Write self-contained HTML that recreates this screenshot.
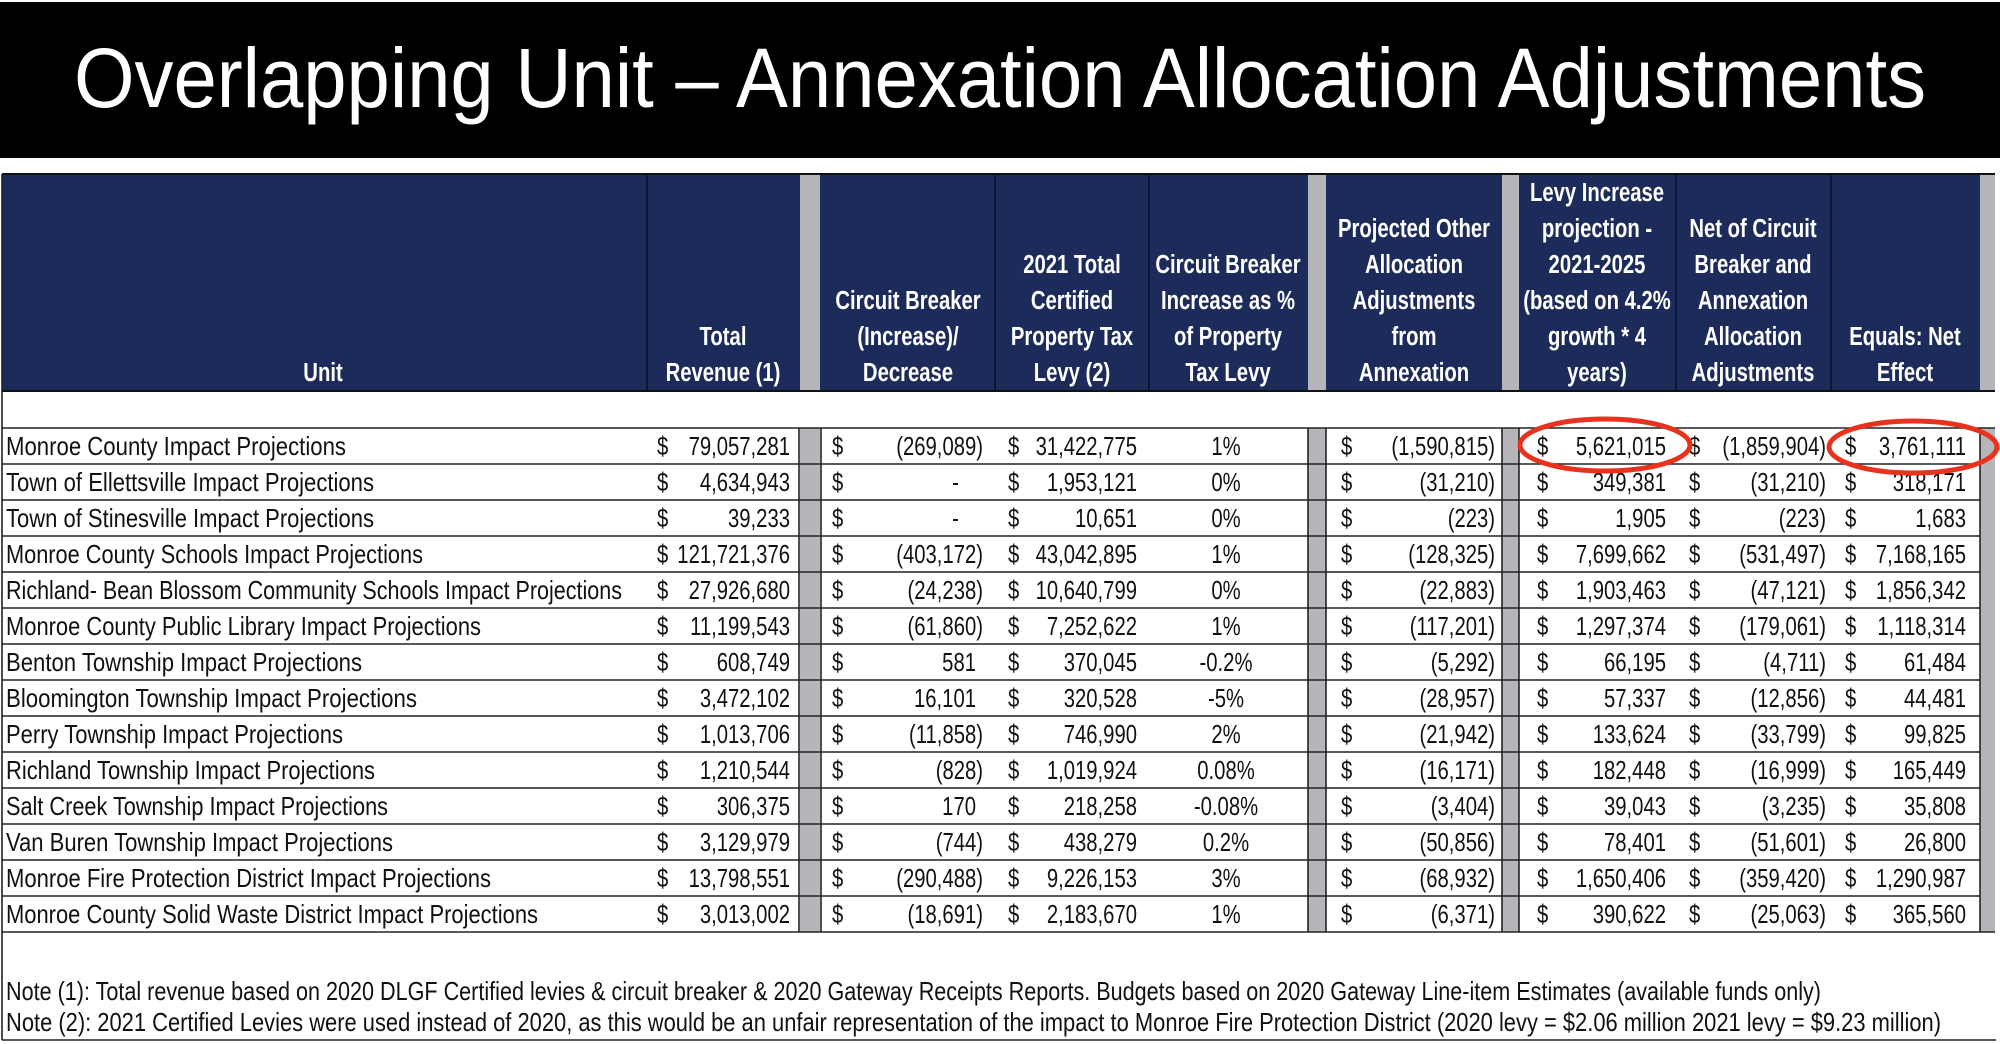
<!DOCTYPE html>
<html><head><meta charset="utf-8"><style>
html,body{margin:0;padding:0;background:#fff;width:2000px;height:1044px;overflow:hidden}
svg{display:block}
text{font-family:"Liberation Sans",sans-serif}
.h text{font-weight:bold;fill:#fff;font-size:26px;text-anchor:middle}
.d text{font-size:26px;fill:#111}
.e text{text-anchor:end}
</style></head><body>
<svg width="2000" height="1044" viewBox="0 0 2000 1044" xmlns="http://www.w3.org/2000/svg">
<rect x="0" y="0" width="2000" height="1044" fill="#fff"/>
<rect x="0" y="2" width="2000" height="156" fill="#000"/>
<text x="74" y="107" font-size="84" fill="#fff" textLength="1852" lengthAdjust="spacingAndGlyphs">Overlapping Unit – Annexation Allocation Adjustments</text>

<rect x="2" y="174" width="1993" height="217" fill="#1d2b5b"/>
<rect x="800" y="174" width="20" height="217" fill="#b6b6ba"/>
<rect x="1308" y="174" width="18" height="217" fill="#b6b6ba"/>
<rect x="1502" y="174" width="17" height="217" fill="#b6b6ba"/>
<rect x="1980" y="174" width="15" height="217" fill="#b6b6ba"/>
<g stroke="#0c1638" stroke-width="2">
<line x1="647" y1="174" x2="647" y2="391"/><line x1="995" y1="174" x2="995" y2="391"/>
<line x1="1149" y1="174" x2="1149" y2="391"/><line x1="1676" y1="174" x2="1676" y2="391"/>
<line x1="1831" y1="174" x2="1831" y2="391"/>
</g>
<line x1="2" y1="174" x2="1995" y2="174" stroke="#111" stroke-width="2"/>
<line x1="2" y1="391" x2="1995" y2="391" stroke="#111" stroke-width="2"/>

<g class="h">
<g transform="translate(323,0) scale(0.78,1)"><text x="0" y="381">Unit</text></g>
<g transform="translate(723,0) scale(0.78,1)"><text y="345">Total</text><text y="381">Revenue (1)</text></g>
<g transform="translate(908,0) scale(0.78,1)"><text y="309">Circuit Breaker</text><text y="345">(Increase)/</text><text y="381">Decrease</text></g>
<g transform="translate(1072,0) scale(0.78,1)"><text y="273">2021 Total</text><text y="309">Certified</text><text y="345">Property Tax</text><text y="381">Levy (2)</text></g>
<g transform="translate(1228,0) scale(0.78,1)"><text y="273">Circuit Breaker</text><text y="309">Increase as %</text><text y="345">of Property</text><text y="381">Tax Levy</text></g>
<g transform="translate(1414,0) scale(0.78,1)"><text y="237">Projected Other</text><text y="273">Allocation</text><text y="309">Adjustments</text><text y="345">from</text><text y="381">Annexation</text></g>
<g transform="translate(1597,0) scale(0.78,1)"><text y="201">Levy Increase</text><text y="237">projection -</text><text y="273">2021-2025</text><text y="309">(based on 4.2%</text><text y="345">growth * 4</text><text y="381">years)</text></g>
<g transform="translate(1753,0) scale(0.78,1)"><text y="237">Net of Circuit</text><text y="273">Breaker and</text><text y="309">Annexation</text><text y="345">Allocation</text><text y="381">Adjustments</text></g>
<g transform="translate(1905,0) scale(0.78,1)"><text y="345">Equals: Net</text><text y="381">Effect</text></g>
</g>

<rect x="800" y="428" width="20" height="504" fill="#b6b6ba"/>
<rect x="1308" y="428" width="18" height="504" fill="#b6b6ba"/>
<rect x="1502" y="428" width="17" height="504" fill="#b6b6ba"/>
<rect x="1980" y="428" width="15" height="504" fill="#b6b6ba"/>
<g stroke="#222" stroke-width="1.6">
<line x1="2" y1="428" x2="1995" y2="428"/><line x1="2" y1="464" x2="1980" y2="464"/>
<line x1="2" y1="500" x2="1980" y2="500"/><line x1="2" y1="536" x2="1980" y2="536"/>
<line x1="2" y1="572" x2="1980" y2="572"/><line x1="2" y1="608" x2="1980" y2="608"/>
<line x1="2" y1="644" x2="1980" y2="644"/><line x1="2" y1="680" x2="1980" y2="680"/>
<line x1="2" y1="716" x2="1980" y2="716"/><line x1="2" y1="752" x2="1980" y2="752"/>
<line x1="2" y1="788" x2="1980" y2="788"/><line x1="2" y1="824" x2="1980" y2="824"/>
<line x1="2" y1="860" x2="1980" y2="860"/><line x1="2" y1="896" x2="1980" y2="896"/>
<line x1="2" y1="932" x2="1995" y2="932"/>
<line x1="799" y1="428" x2="799" y2="932"/><line x1="821" y1="428" x2="821" y2="932"/>
<line x1="1308" y1="428" x2="1308" y2="932"/><line x1="1326" y1="428" x2="1326" y2="932"/>
<line x1="1502" y1="428" x2="1502" y2="932"/><line x1="1519" y1="428" x2="1519" y2="932"/>
<line x1="1980" y1="428" x2="1980" y2="932"/>
<line x1="2" y1="174" x2="2" y2="1040"/>
<line x1="2" y1="1040" x2="1996" y2="1040"/>
</g>

<g class="d">
<text x="6" y="455" textLength="340" lengthAdjust="spacingAndGlyphs">Monroe County Impact Projections</text>
<text x="6" y="491" textLength="368" lengthAdjust="spacingAndGlyphs">Town of Ellettsville Impact Projections</text>
<text x="6" y="527" textLength="368" lengthAdjust="spacingAndGlyphs">Town of Stinesville Impact Projections</text>
<text x="6" y="563" textLength="417" lengthAdjust="spacingAndGlyphs">Monroe County Schools Impact Projections</text>
<text x="6" y="599" textLength="616" lengthAdjust="spacingAndGlyphs">Richland- Bean Blossom Community Schools Impact Projections</text>
<text x="6" y="635" textLength="475" lengthAdjust="spacingAndGlyphs">Monroe County Public Library Impact Projections</text>
<text x="6" y="671" textLength="356" lengthAdjust="spacingAndGlyphs">Benton Township Impact Projections</text>
<text x="6" y="707" textLength="411" lengthAdjust="spacingAndGlyphs">Bloomington Township Impact Projections</text>
<text x="6" y="743" textLength="337" lengthAdjust="spacingAndGlyphs">Perry Township Impact Projections</text>
<text x="6" y="779" textLength="369" lengthAdjust="spacingAndGlyphs">Richland Township Impact Projections</text>
<text x="6" y="815" textLength="382" lengthAdjust="spacingAndGlyphs">Salt Creek Township Impact Projections</text>
<text x="6" y="851" textLength="387" lengthAdjust="spacingAndGlyphs">Van Buren Township Impact Projections</text>
<text x="6" y="887" textLength="485" lengthAdjust="spacingAndGlyphs">Monroe Fire Protection District Impact Projections</text>
<text x="6" y="923" textLength="532" lengthAdjust="spacingAndGlyphs">Monroe County Solid Waste District Impact Projections</text>

<g transform="translate(657,0) scale(0.78,1)"><text y="455">$</text><text y="491">$</text><text y="527">$</text><text y="563">$</text><text y="599">$</text><text y="635">$</text><text y="671">$</text><text y="707">$</text><text y="743">$</text><text y="779">$</text><text y="815">$</text><text y="851">$</text><text y="887">$</text><text y="923">$</text></g>
<g transform="translate(832,0) scale(0.78,1)"><text y="455">$</text><text y="491">$</text><text y="527">$</text><text y="563">$</text><text y="599">$</text><text y="635">$</text><text y="671">$</text><text y="707">$</text><text y="743">$</text><text y="779">$</text><text y="815">$</text><text y="851">$</text><text y="887">$</text><text y="923">$</text></g>
<g transform="translate(1008,0) scale(0.78,1)"><text y="455">$</text><text y="491">$</text><text y="527">$</text><text y="563">$</text><text y="599">$</text><text y="635">$</text><text y="671">$</text><text y="707">$</text><text y="743">$</text><text y="779">$</text><text y="815">$</text><text y="851">$</text><text y="887">$</text><text y="923">$</text></g>
<g transform="translate(1341,0) scale(0.78,1)"><text y="455">$</text><text y="491">$</text><text y="527">$</text><text y="563">$</text><text y="599">$</text><text y="635">$</text><text y="671">$</text><text y="707">$</text><text y="743">$</text><text y="779">$</text><text y="815">$</text><text y="851">$</text><text y="887">$</text><text y="923">$</text></g>
<g transform="translate(1537,0) scale(0.78,1)"><text y="455">$</text><text y="491">$</text><text y="527">$</text><text y="563">$</text><text y="599">$</text><text y="635">$</text><text y="671">$</text><text y="707">$</text><text y="743">$</text><text y="779">$</text><text y="815">$</text><text y="851">$</text><text y="887">$</text><text y="923">$</text></g>
<g transform="translate(1689,0) scale(0.78,1)"><text y="455">$</text><text y="491">$</text><text y="527">$</text><text y="563">$</text><text y="599">$</text><text y="635">$</text><text y="671">$</text><text y="707">$</text><text y="743">$</text><text y="779">$</text><text y="815">$</text><text y="851">$</text><text y="887">$</text><text y="923">$</text></g>
<g transform="translate(1845,0) scale(0.78,1)"><text y="455">$</text><text y="491">$</text><text y="527">$</text><text y="563">$</text><text y="599">$</text><text y="635">$</text><text y="671">$</text><text y="707">$</text><text y="743">$</text><text y="779">$</text><text y="815">$</text><text y="851">$</text><text y="887">$</text><text y="923">$</text></g>

<g class="e">
<g transform="translate(790,0) scale(0.78,1)"><text y="455">79,057,281</text><text y="491">4,634,943</text><text y="527">39,233</text><text y="563">121,721,376</text><text y="599">27,926,680</text><text y="635">11,199,543</text><text y="671">608,749</text><text y="707">3,472,102</text><text y="743">1,013,706</text><text y="779">1,210,544</text><text y="815">306,375</text><text y="851">3,129,979</text><text y="887">13,798,551</text><text y="923">3,013,002</text></g>
<g transform="translate(983,0) scale(0.78,1)"><text y="455">(269,089)</text><text y="563">(403,172)</text><text y="599">(24,238)</text><text y="635">(61,860)</text><text y="743">(11,858)</text><text y="779">(828)</text><text y="851">(744)</text><text y="887">(290,488)</text><text y="923">(18,691)</text></g>
<g transform="translate(976,0) scale(0.78,1)"><text y="671">581</text><text y="707">16,101</text><text y="815">170</text><text x="-22" y="491">-</text><text x="-22" y="527">-</text></g>
<g transform="translate(1137,0) scale(0.78,1)"><text y="455">31,422,775</text><text y="491">1,953,121</text><text y="527">10,651</text><text y="563">43,042,895</text><text y="599">10,640,799</text><text y="635">7,252,622</text><text y="671">370,045</text><text y="707">320,528</text><text y="743">746,990</text><text y="779">1,019,924</text><text y="815">218,258</text><text y="851">438,279</text><text y="887">9,226,153</text><text y="923">2,183,670</text></g>
<g transform="translate(1495,0) scale(0.78,1)"><text y="455">(1,590,815)</text><text y="491">(31,210)</text><text y="527">(223)</text><text y="563">(128,325)</text><text y="599">(22,883)</text><text y="635">(117,201)</text><text y="671">(5,292)</text><text y="707">(28,957)</text><text y="743">(21,942)</text><text y="779">(16,171)</text><text y="815">(3,404)</text><text y="851">(50,856)</text><text y="887">(68,932)</text><text y="923">(6,371)</text></g>
<g transform="translate(1666,0) scale(0.78,1)"><text y="455">5,621,015</text><text y="491">349,381</text><text y="527">1,905</text><text y="563">7,699,662</text><text y="599">1,903,463</text><text y="635">1,297,374</text><text y="671">66,195</text><text y="707">57,337</text><text y="743">133,624</text><text y="779">182,448</text><text y="815">39,043</text><text y="851">78,401</text><text y="887">1,650,406</text><text y="923">390,622</text></g>
<g transform="translate(1826,0) scale(0.78,1)"><text y="455">(1,859,904)</text><text y="491">(31,210)</text><text y="527">(223)</text><text y="563">(531,497)</text><text y="599">(47,121)</text><text y="635">(179,061)</text><text y="671">(4,711)</text><text y="707">(12,856)</text><text y="743">(33,799)</text><text y="779">(16,999)</text><text y="815">(3,235)</text><text y="851">(51,601)</text><text y="887">(359,420)</text><text y="923">(25,063)</text></g>
<g transform="translate(1966,0) scale(0.78,1)"><text y="455">3,761,111</text><text y="491">318,171</text><text y="527">1,683</text><text y="563">7,168,165</text><text y="599">1,856,342</text><text y="635">1,118,314</text><text y="671">61,484</text><text y="707">44,481</text><text y="743">99,825</text><text y="779">165,449</text><text y="815">35,808</text><text y="851">26,800</text><text y="887">1,290,987</text><text y="923">365,560</text></g>
</g>
<g transform="translate(1226,0) scale(0.78,1)" text-anchor="middle"><text y="455">1%</text><text y="491">0%</text><text y="527">0%</text><text y="563">1%</text><text y="599">0%</text><text y="635">1%</text><text y="671">-0.2%</text><text y="707">-5%</text><text y="743">2%</text><text y="779">0.08%</text><text y="815">-0.08%</text><text y="851">0.2%</text><text y="887">3%</text><text y="923">1%</text></g>

<text x="6" y="1000" textLength="1815" lengthAdjust="spacingAndGlyphs">Note (1): Total revenue based on 2020 DLGF Certified levies &amp; circuit breaker &amp; 2020 Gateway Receipts Reports. Budgets based on 2020 Gateway Line-item Estimates (available funds only)</text>
<text x="6" y="1031" textLength="1935" lengthAdjust="spacingAndGlyphs">Note (2): 2021 Certified Levies were used instead of 2020, as this would be an unfair representation of the impact to Monroe Fire Protection District (2020 levy = $2.06 million 2021 levy = $9.23 million)</text>
</g>

<ellipse cx="1605" cy="445" rx="85" ry="26" fill="none" stroke="#e8321e" stroke-width="5"/>
<ellipse cx="1913" cy="447" rx="84" ry="26" fill="none" stroke="#e8321e" stroke-width="5"/>
</svg>
</body></html>
